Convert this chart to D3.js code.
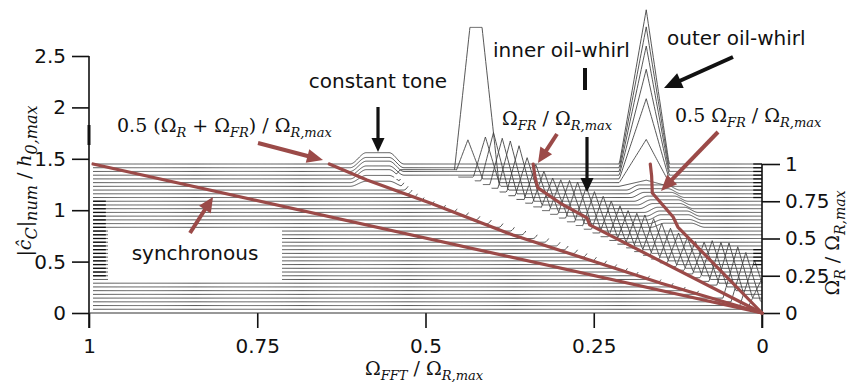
<!DOCTYPE html>
<html>
<head>
<meta charset="utf-8">
<script src="https://cdn.jsdelivr.net/npm/d3@7"></script>
<style>
body{margin:0;background:#fff;}
svg{display:block;}
.tick text{font-family:"DejaVu Sans",Verdana,sans-serif;font-size:20px;fill:#111;}
.lbl{font-family:"DejaVu Sans",Verdana,sans-serif;font-size:20px;fill:#111;}
.math{font-family:"DejaVu Serif","Liberation Serif",serif;font-size:19px;fill:#111;}
</style>
</head>
<body>
<div id="chart"></div>
<script>
// rotor speeds of the recorded spectra (Omega_R / Omega_R,max)
var speeds = [0.025,0.05,0.075,0.1,0.125,0.15,0.175,0.2,0.225,0.25,0.275,0.3,0.325,0.35,0.375,0.4,0.425,0.45,0.475,0.5,
              0.525,0.55,0.575,0.6,0.625,0.65,0.675,0.7,0.725,0.75,0.775,0.8,0.825,0.85,0.875,0.9,0.925,0.95,0.975,1.0];
// inner oil-whirl peak of every spectrum
var whirlFreq = [0.000,0.011,0.024,0.036,0.049,0.061,0.074,0.086,0.099,0.111,0.124,0.136,0.149,0.161,0.174,0.186,0.199,0.211,0.224,0.236,
                 0.249,0.261,0.274,0.286,0.299,0.311,0.324,0.336,0.349,0.361,0.374,0.386,0.399,0.411,0.425,0.437,0,0,0,0];
var whirlAmp  = [0.30,0.44,0.48,0.50,0.50,0.47,0.45,0.40,0.37,0.37,0.38,0.39,0.40,0.41,0.41,0.39,0.38,0.39,0.40,0.41,
                 0.42,0.43,0.44,0.42,0.39,0.37,0.40,0.43,0.46,0.54,0.55,0.54,0.56,0.48,1.51,0.38,0,0,0,0];
// frequency where the broadband shoulder starts
var kneeFreq  = [null,null,null,null,0.100,0.120,0.138,0.156,0.173,0.190,0.206,0.222,0.237,0.252,0.266,0.280,0.294,0.306,0.323,0.340,
                 0.357,0.374,0.391,0.408,0.425,0.442,0.459,0.476,0.493,0.508,0.518,0.526,0.532,0.538,0.543,0.550,null,null,null,null];
// constant tone and outer oil-whirl (upper spectra)
var toneSpeeds = [0.85,0.875,0.9,0.925,0.95,0.975,1.0];
var toneAmp    = [0.05,0.07,0.09,0.09,0.10,0.10,0.11];
var outerSpeeds = [0.85,0.875,0.9,0.925,0.95,0.975,1.0];
var outerAmp    = [0.06,0.42,0.78,1.03,1.22,1.37,1.50];
// small bumps at half the floating ring speed
var halfFrSpeeds = [0.575,0.6,0.625,0.65,0.675,0.7,0.725,0.75,0.775,0.8,0.825];
var halfFrFreq   = [0.125,0.128,0.130,0.132,0.135,0.142,0.145,0.150,0.155,0.160,0.162];
var halfFrAmp    = [0.04,0.04,0.05,0.05,0.05,0.05,0.05,0.05,0.05,0.05,0.05];

// marked frequency lines [f, Omega_R]
var syncLine   = [[0.994,1.0],[0,0]];
var innerLine  = [[0.643,1.0],[0.587,0.893],[0.493,0.738],[0.37,0.523],[0.27,0.376],[0.15,0.2],[0,0]];
var frLine     = [[0.340,1.0],[0.337,0.906],[0.333,0.84],[0.300,0.738],[0.260,0.638],[0.256,0.591],[0,0]];
var halfFrLine = [[0.166,1.0],[0.164,0.92],[0.163,0.805],[0.132,0.644],[0.125,0.577],[0,0]];

var xTicks = [1,0.75,0.5,0.25,0];
var yTicks = [0,0.5,1,1.5,2,2.5];
var rTicks = [0,0.25,0.5,0.75,1];

var W = 854, H = 382;
var svg = d3.select("#chart").append("svg").attr("width",W).attr("height",H);

var x = d3.scaleLinear().domain([1,0]).range([89,762]);
var yAmp = d3.scaleLinear().domain([0,2.5]).range([313,56]);
var yR = d3.scaleLinear().domain([0,1]).range([313,164]);

var shoulderHeight = 0.09;

function smooth(t){ return t<=0 ? 0 : (t>=1 ? 1 : t*t*(3-2*t)); }
function trap(f,c,half,top,a){
    var d = Math.abs(f-c);
    if(d<=top) return a;
    if(d>=half) return 0;
    return a*(half-d)/(half-top);
}
function shoulderAt(i,f){
    var k = kneeFreq[i];
    if(k==null) return 0;
    var tall = whirlAmp[i]>1;
    // the shoulder runs into the left flank of the whirl peak
    var e = Math.max(0, whirlFreq[i] + (tall?0.026:0.013));
    var up = smooth((k-f)/0.014);
    var dn = smooth((f-e)/0.005);
    return shoulderHeight*up*dn;
}
function ampAt(i,f){
    var r = speeds[i];
    var a = shoulderAt(i,f);
    if(whirlAmp[i]>0){
        var tall = whirlAmp[i]>1;
        a = Math.max(a, trap(f, whirlFreq[i], tall?0.034:0.022, tall?0.009:0, whirlAmp[i]));
    }
    var j = toneSpeeds.indexOf(r);
    if(j>=0) a = Math.max(a, toneAmp[j]*smooth((0.612-f)/0.024)*smooth((f-0.532)/0.022));
    j = outerSpeeds.indexOf(r);
    if(j>=0){
        var o = f>=0.172 ? outerAmp[j]*Math.max(0,1-(f-0.172)/0.040) : outerAmp[j]*Math.max(0,1-(0.172-f)/0.034);
        a = Math.max(a,o);
    }
    j = halfFrSpeeds.indexOf(r);
    if(j>=0){
        var c = halfFrFreq[j];
        a = Math.max(a, halfFrAmp[j]*smooth((c+0.04-f)/0.02)*smooth((f-c+0.04)/0.02));
    }
    return a;
}

// frequency grid plus the corners of each peak
function grid(i){
    var g = d3.range(0.994, 0, -0.0015).concat([0]);
    if(whirlAmp[i]>0){
        var w = whirlFreq[i];
        g.push(w, w+0.009, w-0.009);
    }
    if(outerSpeeds.indexOf(speeds[i])>=0) g.push(0.172);
    g = g.filter(function(f){return f>=0 && f<=0.994;});
    g.sort(function(a,b){return b-a;});
    return g;
}

function py(r,a){ return yR(r) - (yAmp(0)-yAmp(a)); }

var specG = svg.append("g");
speeds.forEach(function(r,i){
    var pts = grid(i).map(function(f){ return {f:f, a:ampAt(i,f), s:shoulderAt(i,f)}; });
    specG.append("path")
        .attr("d", d3.area().x(function(d){return x(d.f);}).y0(yR(r)).y1(function(d){return py(r,d.s);})(pts))
        .attr("fill","#fff");
    specG.append("path")
        .attr("d", d3.line().x(function(d){return x(d.f);}).y(function(d){return py(r,d.a);})(pts))
        .attr("fill","none").attr("stroke","#444").attr("stroke-width",0.9);
});

// darker ends of some traces
speeds.forEach(function(r){
    if(r>=0.25 && r<=0.75){
        specG.append("line").attr("x1",x(0.994)).attr("x2",x(0.975)).attr("y1",yR(r)).attr("y2",yR(r))
            .attr("stroke","#111").attr("stroke-width",1.3);
    }
    if(r>=0.775 || (r>=0.325 && r<=0.425)){
        specG.append("line").attr("x1",x(0.013)).attr("x2",x(0)).attr("y1",yR(r)).attr("y2",yR(r))
            .attr("stroke","#111").attr("stroke-width",1.3);
    }
});

// axes
var axG = svg.append("g");
axG.append("g").attr("transform","translate(0,313)")
    .call(d3.axisBottom(x).tickValues(xTicks).tickSize(15).tickSizeOuter(0).tickPadding(11).tickFormat(function(d){return d;}));
axG.append("g").attr("transform","translate(89,0)")
    .call(d3.axisLeft(yAmp).tickValues(yTicks).tickSize(17).tickSizeOuter(0).tickPadding(6).tickFormat(function(d){return d;}));
axG.append("g").attr("transform","translate(762,0)")
    .call(d3.axisRight(yR).tickValues(rTicks).tickSize(18).tickSizeOuter(0).tickPadding(5).tickFormat(function(d){return d;}));
axG.selectAll(".domain").remove();
axG.selectAll(".tick line").attr("stroke","#111").attr("stroke-width",1.6);
axG.append("line").attr("x1",89).attr("x2",89).attr("y1",yAmp(2.5)).attr("y2",328).attr("stroke","#111").attr("stroke-width",1.6);
axG.append("line").attr("x1",762).attr("x2",762).attr("y1",yR(1)).attr("y2",328).attr("stroke","#111").attr("stroke-width",1.6);
axG.append("line").attr("x1",89).attr("x2",762).attr("y1",313).attr("y2",313).attr("stroke","#333").attr("stroke-width",1.2);
axG.append("line").attr("x1",89).attr("x2",89).attr("y1",125).attr("y2",145).attr("stroke","#111").attr("stroke-width",3);

// white label box
svg.append("rect").attr("x",108).attr("y",228).attr("width",174).attr("height",52).attr("fill","#fff");

// marked lines
var red = "#9b4a48";
var rl = d3.line().x(function(d){return x(d[0]);}).y(function(d){return yR(d[1]);});
[syncLine, innerLine, frLine, halfFrLine].forEach(function(l){
    svg.append("path").attr("d", rl(l)).attr("fill","none").attr("stroke",red)
        .attr("stroke-width",3.2).attr("stroke-linejoin","round").attr("stroke-linecap","round");
});

function arrow(x1,y1,x2,y2,col,w,hl,hw){
    var dx=x2-x1, dy=y2-y1, L=Math.sqrt(dx*dx+dy*dy), ux=dx/L, uy=dy/L;
    var bx=x2-ux*hl, by=y2-uy*hl;
    svg.append("line").attr("x1",x1).attr("y1",y1).attr("x2",bx+ux).attr("y2",by+uy)
        .attr("stroke",col).attr("stroke-width",w);
    svg.append("path").attr("d","M"+x2+","+y2+"L"+(bx-uy*hw/2)+","+(by+ux*hw/2)+"L"+(bx+uy*hw/2)+","+(by-ux*hw/2)+"Z")
        .attr("fill",col);
}
arrow(258,143,323,160,red,4,16,14);
arrow(557,134,538,163,red,4,15,14);
arrow(718,132,661,191,red,4,16,14);
arrow(190,233,213,197,red,4,15,14);
arrow(378,107,378,152,"#111",3.2,14,13);
arrow(587,137,587,192,"#111",3.2,14,13);
arrow(733,57,664,88,"#111",4,18,16);
svg.append("line").attr("x1",585).attr("x2",585).attr("y1",68).attr("y2",90).attr("stroke","#111").attr("stroke-width",4);

// texts
svg.append("text").attr("class","lbl").attr("x",378).attr("y",88).attr("text-anchor","middle").text("constant tone");
svg.append("text").attr("class","lbl").attr("x",493).attr("y",57).text("inner oil-whirl");
svg.append("text").attr("class","lbl").attr("x",667).attr("y",45).text("outer oil-whirl");
svg.append("text").attr("class","lbl").attr("x",195).attr("y",260).attr("text-anchor","middle").text("synchronous");

function mathText(g, parts, size, subSize){
    var t = g.append("text").attr("class","math").attr("font-size",size||19);
    var shift = 0;
    parts.forEach(function(p){
        var s = t.append("tspan").text(p[0]);
        var want = p[1]==="sub" ? Math.round((size||19)*0.27) : 0;
        if(want!==shift){ s.attr("dy", want-shift); shift = want; }
        if(p[1]==="sub"){ s.attr("font-size",subSize||13).attr("font-style","italic"); }
        if(p[1]==="it"){ s.attr("font-style","italic"); }
    });
    return t;
}
mathText(svg.append("g").attr("transform","translate(117,132)"),
    [["0.5 (Ω"],["R","sub"],[" + Ω"],["FR","sub"],[") / Ω"],["R,max","sub"]]);
mathText(svg.append("g").attr("transform","translate(502,125)"),
    [["Ω"],["FR","sub"],[" / Ω"],["R,max","sub"]]);
mathText(svg.append("g").attr("transform","translate(675,122)"),
    [["0.5 Ω"],["FR","sub"],[" / Ω"],["R,max","sub"]]);
mathText(svg.append("g").attr("transform","translate(365,375)"),
    [["Ω"],["FFT","sub"],[" / Ω"],["R,max","sub"]]);
mathText(svg.append("g").attr("transform","translate(31,181) rotate(-90)"),
    [["|"],["ĉ","it"],["C","sub"],["|"],["num","sub"],[" / "],["h","it"],["0,max","sub"]], 23, 16).attr("text-anchor","middle");
mathText(svg.append("g").attr("transform","translate(839,243) rotate(-90)"),
    [["Ω"],["R","sub"],[" / Ω"],["R,max","sub"]], 21, 14).attr("text-anchor","middle");
</script>
</body>
</html>
